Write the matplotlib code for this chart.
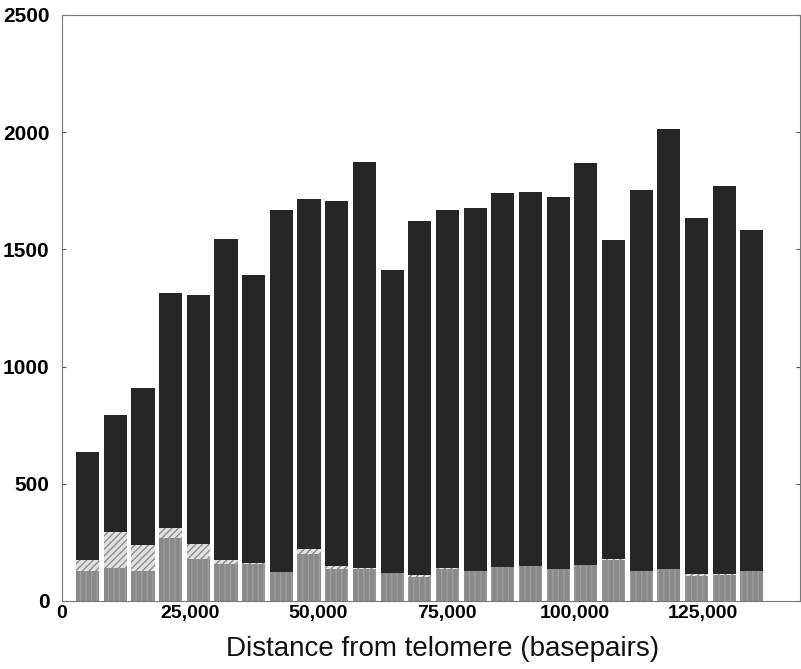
import matplotlib
matplotlib.use("Agg")
import matplotlib.pyplot as plt
import numpy as np

plt.rcParams['font.family'] = ['Liberation Sans', 'DejaVu Sans']
plt.rcParams['hatch.linewidth'] = 1.0

# Bin centers (basepairs from telomere)
distance = [5000, 10400, 15800, 21200, 26600, 32000, 37400, 42800, 48200, 53600,
            59000, 64400, 69800, 75200, 80600, 86000, 91400, 96800, 102200, 107600,
            113000, 118400, 123800, 129200, 134600]

# Bottom (grey) segment
grey_counts = [130, 140, 130, 270, 180, 159, 156, 123, 199, 135,
               137, 119, 102, 137, 130, 144, 149, 135, 154, 177,
               130, 135, 106, 109, 130]

# Middle (hatched) segment
hatched_counts = [46, 154, 107, 41, 64, 17, 4, 0, 24, 15,
                  3, 0, 11, 3, 0, 2, 1, 0, 1, 1,
                  0, 2, 10, 7, 0]

# Total bar height
totals = [635, 792, 910, 1312, 1307, 1543, 1390, 1670, 1713, 1706,
          1874, 1414, 1620, 1670, 1677, 1741, 1747, 1724, 1867, 1539,
          1753, 2013, 1632, 1771, 1582]

x = np.array(distance)
g = np.array(grey_counts)
h = np.array(hatched_counts)
dark = np.array(totals) - g - h

fig = plt.figure(figsize=(8.01, 6.69), dpi=100)
ax = fig.add_axes([62/801, 1-601/669, (800-62)/801, (601-15)/669])

width = 4500
ax.bar(x, g, width=width, color='#8a8a8a', edgecolor='#9c9c9c', hatch='|||', linewidth=0)
ax.bar(x, h, width=width, bottom=g, color='#e2e2e2', edgecolor='#8e8e8e', hatch='/////', linewidth=0)
ax.bar(x, dark, width=width, bottom=g + h, color='#262626', linewidth=0)

ax.set_xlim(0, 144000)
ax.set_ylim(0, 2500)

ax.set_xticks([0, 25000, 50000, 75000, 100000, 125000])
ax.set_xticklabels(['0', '25,000', '50,000', '75,000', '100,000', '125,000'],
                   fontsize=14, fontweight='bold')
ax.tick_params(axis='x', length=0, pad=3)

ax.set_yticks([0, 500, 1000, 1500, 2000, 2500])
ax.set_yticklabels(['0', '500', '1000', '1500', '2000', '2500'],
                   fontsize=15, fontweight='bold')
ax.tick_params(axis='y', direction='in', length=3, width=0.8, color='#555555',
               right=True, pad=9)

for s in ax.spines.values():
    s.set_color('#777777')
    s.set_linewidth(0.8)

ax.set_xlabel('Distance from telomere (basepairs)', fontsize=20, labelpad=10,
              color='#111111')
ax.xaxis.set_label_coords(0.515, -0.06)

fig.savefig('out.png', dpi=100)
